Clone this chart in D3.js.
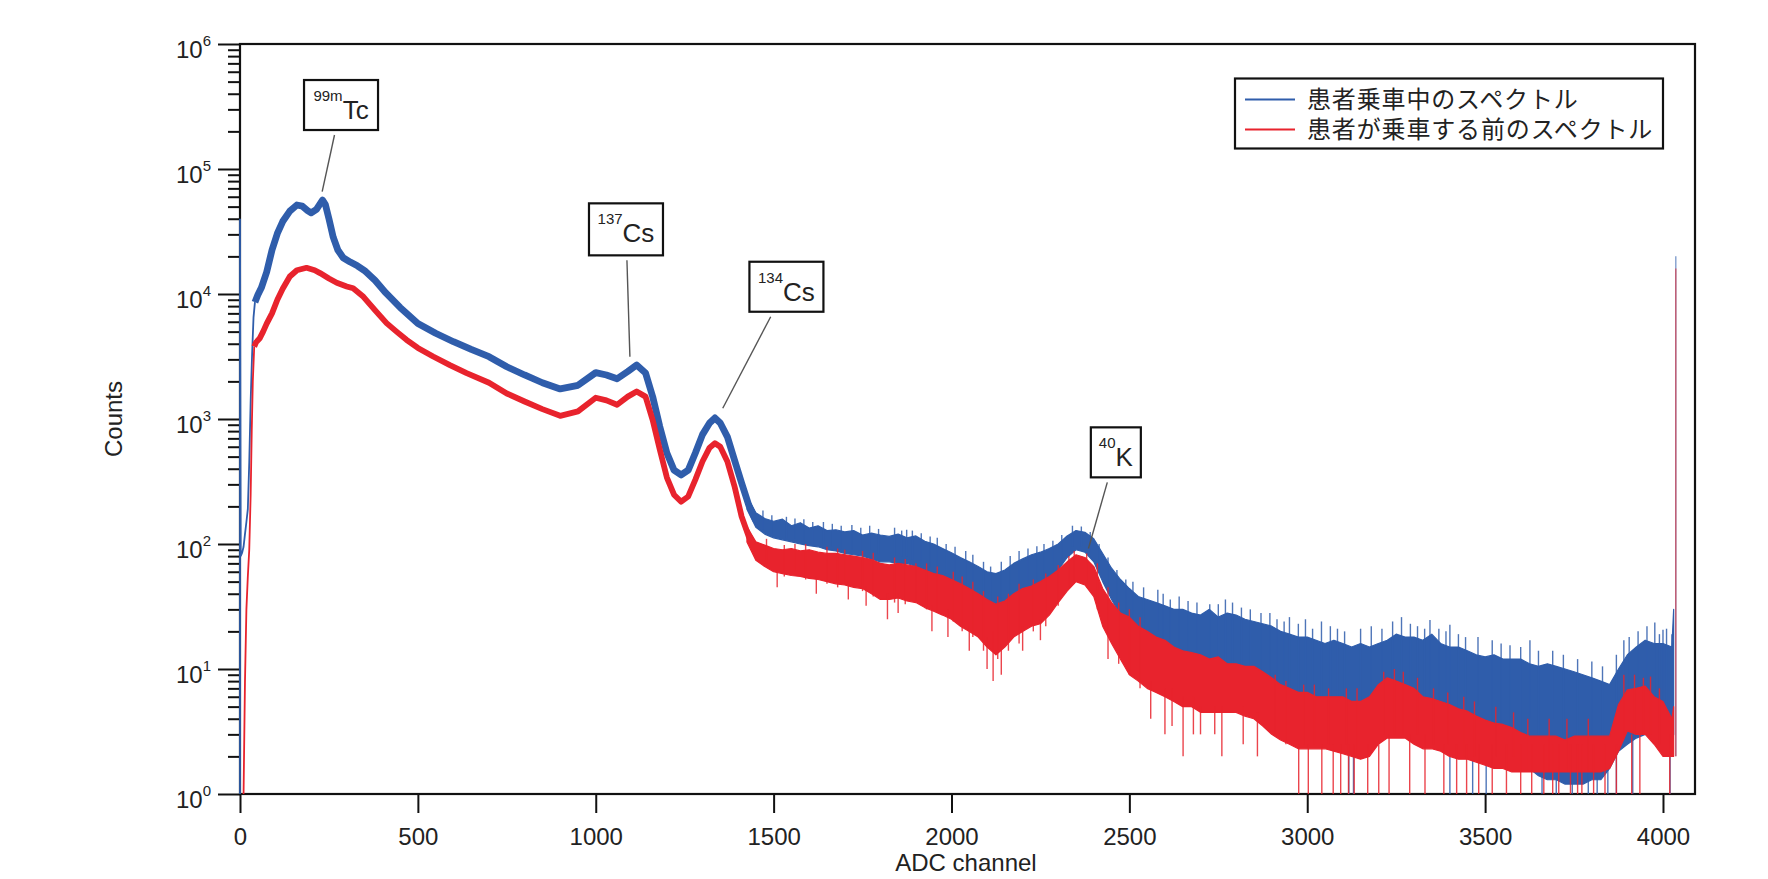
<!DOCTYPE html>
<html><head><meta charset="utf-8">
<script src="https://cdn.jsdelivr.net/npm/d3@7"></script>
<style>
body{margin:0;background:#fff;}
svg{display:block;font-family:"Liberation Sans",Arial,sans-serif;}
</style></head><body>
<svg id="chart" width="1768" height="879"></svg>
<script>
// ---------------- DATA ----------------
const xTicks = [0, 500, 1000, 1500, 2000, 2500, 3000, 3500, 4000];
const yExponents = [0, 1, 2, 3, 4, 5, 6];
const seriesNames = ["患者乗車中のスペクトル", "患者が乗車する前のスペクトル"];

// smooth part of the spectrum (channel, counts)
const blueCh = [0,0,2,6,10,14,18,22,26,30, 34,38,42,50,60,75,90,105,120,140,
  160,175,190,200,215,232,240,250,262,275, 290,310,330,350,380,410,450,500,550,600,
  650,700,750,800,850,900,950,1000,1030,1060, 1090,1115,1140,1160,1180,1200,1220,1240,1260,1280,
  1300,1320,1335,1350,1370,1390,1410,1430,1450];
const blueVal = [1,40000,80,85,95,120,150,190,450,1400, 3300,6500,8600,9800,11200,15000,22500,30500,38000,46000,
  51500,50500,46500,44600,47500,56500,52000,40000,28500,22500, 19500,18000,16800,15400,12800,10200,7800,5800,4850,4150,
  3600,3150,2620,2250,1950,1740,1860,2350,2250,2100, 2400,2700,2330,1510,870,534,390,357,390,534,
  750,930,1020,930,720,470,307,205,155];

const redCh = [10,14,18,22,26,30,33,36,40,45, 55,65,75,90,105,120,140,160,187,210,
  225,250,272,300,318,347,380,412,440,468, 500,543,590,637,700,750,800,850,900,950,
  1000,1030,1060,1090,1115,1140,1160,1180,1200,1220, 1240,1260,1280,1300,1320,1335,1350,1370,1390,1410,
  1430,1450];
const redVal = [1,8,30,55,90,250,800,2000,3800,4100, 4400,5000,5800,7000,9000,11000,13800,15500,16200,15500,
  14700,13300,12300,11500,11100,9500,7400,5850,5000,4300, 3700,3160,2700,2330,1950,1600,1380,1200,1060,1150,
  1480,1410,1300,1510,1660,1510,980,570,340,248, 218,240,327,457,590,640,600,457,290,166,
  115,87];

// noisy part: upper / lower envelope of the noise band
const noiseCh = [1425,1450,1475,1500,1525,1550,1575,1600,1625,1650,
  1675,1700,1725,1750,1775,1800,1825,1850,1875,1900,
  1925,1950,1975,2000,2025,2050,2075,2100,2125,2150,
  2175,2200,2225,2250,2275,2300,2325,2350,2375,2400,
  2425,2450,2475,2500,2525,2550,2575,2600,2625,2650,
  2675,2700,2725,2750,2775,2800,2825,2850,2875,2900,
  2925,2950,2975,3000,3025,3050,3075,3100,3125,3150,
  3175,3200,3225,3250,3275,3300,3325,3350,3375,3400,
  3425,3450,3475,3500,3525,3550,3575,3600,3625,3650,
  3675,3700,3725,3750,3775,3800,3825,3850,3875,3900,
  3925,3950,3975,4000,4025,4030];
const blueHi = [240,178,160,152,158,140,148,134,140,128,
  130,125,128,118,122,118,115,120,112,116,
  105,100,92,85,78,72,66,60,58,62,
  70,76,82,86,92,100,116,128,124,110,
  84,64,52,44,38,36,34,32,30,30,
  28,27,30,26,28,27,25,24,23,22,
  20,19,18,18,17,16,17,16,15,16,
  15,16,17,19,18,18,17,19,16,15,
  15,14,13,12.5,13,12,12,12,11,10.5,
  11,10.5,10,9.5,9,8.5,8,7.5,10,13,
  15,17,16,16,15,30];
const blueLo = [190,136,120,112,108,104,100,97,95,90,
  88,84,82,80,76,72,72,70,70,66,
  62,58,52,48,44,40,35,32,30,33,
  38,42,44,48,53,62,78,90,86,72,
  50,36,27,21,17,14,13,12,11,10,
  9.5,9,9,8.5,8,7.5,7,6.5,6,5.5,
  5,5,4.5,4.5,4.5,4.5,4.5,4,4,4,
  3.8,3.5,3.5,3.5,3.5,3.5,3.4,3.2,3,3,
  3,2.8,2.6,2.5,2.5,2.3,2.2,2,1.6,1.4,
  1.3,1.3,1.2,1.2,1.2,1.3,1.3,1.6,2.2,2.5,
  2.8,3,3,3,2.5,3];
const redHi = [138,104,98,92,90,92,88,90,86,84,
  84,82,80,78,75,70,68,70,68,66,
  62,58,56,52,48,44,40,36,33,35,
  40,44,46,50,55,62,72,82,78,66,
  44,34,28,26,22,20,18,17,15,14,
  13.5,13,12,12.5,11,11,10.5,10.5,9.5,8.5,
  7.5,7,6.5,6.5,6,6,6,6,5.5,5.5,
  6,7.5,8.5,8,7.5,7,6,5.8,5.5,5.2,
  4.8,4.6,4.2,3.9,3.7,3.6,3.4,3.1,2.9,2.9,
  2.9,2.9,2.7,2.9,2.9,2.9,2.9,2.9,5.2,6.8,
  7,7.3,6,5.5,4,5];
const redLo = [104,74,66,60,58,56,55,53,52,50,
  48,47,45,44,40,36,36,37,35,34,
  31,29,27,25,22,20,18,15,13,15,
  18,20,22,23,27,34,42,50,47,38,
  22,16,12,9,8,7,6.5,6,5.5,5,
  5,4.5,4.5,4.5,4.5,4.5,4.2,4,3.5,3,
  2.7,2.5,2.3,2.3,2.3,2.3,2.2,2.1,2,1.9,
  2,2.5,2.8,2.8,2.8,2.5,2.3,2.3,2.2,2,
  1.9,1.9,1.8,1.7,1.6,1.6,1.5,1.5,1.5,1.5,
  1.5,1.5,1.5,1.5,1.5,1.5,1.5,1.6,2.2,3.2,
  3,3,2.5,2,2,2];

// single-channel spikes: [channel, low count, high count]
const blueSpikes = [[1470,130,185],[1495,120,170],[1536,110,165],[1560,110,160],[1585,105,158],[1610,100,150],
  [1640,100,150],[1665,95,145],[1690,90,140],[1720,90,142],[1745,88,135],[1770,85,140],[1795,82,132],
  [1840,80,135],[1860,80,128],[1874,80,130],[1890,75,128],[1915,70,122],[1940,65,115],[1960,60,112],
  [1985,58,100],[2010,52,95],[2040,45,88],[2060,45,82],[2090,38,72],[2110,35,66],[2140,36,72],[2165,40,80],
  [2190,45,88],[2215,48,92],[2240,52,96],[2260,55,100],[2285,58,106],[2310,70,118],[2340,95,140],
  [2365,95,138],[2390,85,125],[2415,65,100],[2440,45,78],[2465,32,62],[2490,26,52],[2510,22,50],
  [2540,18,45],[2580,20,43],[2595,15,40],[2615,14,36],[2640,14,38],[2665,12,35],[2690,11,34],[2726,12,33],
  [2750,10,33],[2770,10,36],[2790,10,34],[2815,9,31],[2840,8,30],[2870,8,28],[2895,7,28],[2915,6,25],
  [2935,6,24],[2950,7,26],[2975,6,23],[2995,5,25],[3015,5,21],[3040,6,24],[3065,5,22],[3085,5,21],
  [3105,5,20],[3117,1,5],[3130,1,5],[3150,5,21],[3180,5,22],[3210,4,21],[3240,4,24],[3265,6,26],
  [3290,4,23],[3310,4,22],[3330,4,21],[3345,6,24.7],[3370,4,21],[3390,4,20],[3401,1,22.6],[3425,4,19],
  [3445,4,18],[3465,1,3],[3480,5,18],[3503,1,3],[3520,3,17],[3545,3,16],[3570,3,15.5],[3600,3,15],
  [3626,4,17],[3650,3,14],[3660,1,2.5],[3690,4,14],[3700,1,2.5],[3720,3,13],[3745,1,2.5],[3760,2.5,12],
  [3790,1,2.5],[3800,2.5,11.5],[3815,1,2.5],[3830,2.5,10.5],[3845,1,2.5],[3869,1,13],[3890,3,17],
  [3905,3,18],[3915,1,3],[3930,3,20],[3955,3,22],[3977,5,23.6],[3990,3,19],[4000,5,20.6],[4010,3,21],
  [4020,1,3],[4025,3,19],[4036,2,20000]];
const redSpikes = [[1480,70,110],[1510,45,62],[1530,55,98],[1560,60,100],[1590,52,100],[1620,40,55],
  [1650,48,95],[1680,45,92],[1700,48,90],[1710,36,50],[1750,42,88],[1760,32,46],[1780,38,85],[1820,25,40],
  [1840,34,78],[1850,28,40],[1870,33,76],[1900,35,70],[1930,30,70],[1945,20,32],[1960,28,66],[1990,18,30],
  [2005,24,60],[2030,20,55],[2050,14,22],[2060,18,50],[2090,14,42],[2100,10,18],[2117,8,20],[2130,12,38],
  [2140,9,16],[2160,14,40],[2190,16,48],[2200,14,22],[2230,20,52],[2250,17,25],[2265,22,58],[2300,32,68],
  [2330,45,80],[2345,48,88],[2380,45,84],[2410,30,70],[2440,12,45],[2470,11,34],[2500,9,30],[2530,7,26],
  [2560,4,8],[2600,3,7],[2620,3.5,7],[2651,2,6],[2680,3,6],[2700,3,5],[2740,3,5],[2760,2,5],[2820,2.5,5],
  [2860,2,4.5],[2910,3,9],[2940,2.5,8],[2976,1,2.5],[2990,2.5,7.5],[3003,1,2.5],[3020,2.5,7.5],[3041,1,2.5],
  [3060,2.5,7],[3073,1,2.5],[3094,1,2.5],[3110,2.5,7],[3116,1,2.5],[3132,1,2.5],[3140,2,7],[3170,1,2.5],
  [3201,1,2.5],[3215,3,9.5],[3230,1,3],[3245,3,10],[3270,3,9.5],[3288,1,3],[3310,3,8.5],[3331,1,3],
  [3355,2.5,7],[3384,1,2.5],[3395,2.5,6.5],[3420,1,2.5],[3440,2,6],[3448,1,2.5],[3470,2,5.5],[3482,1,2.5],
  [3520,1,2.5],[3530,2,5],[3560,1,2.5],[3580,2,4.5],[3600,1,2.5],[3620,1.5,4],[3631,1,2.5],[3665,1,2.5],
  [3680,1.5,4],[3690,1,2.5],[3707,1,2.5],[3730,1.5,4],[3740,1,2.5],[3760,1,2.5],[3772,1,2.5],[3790,1.5,4],
  [3805,1,2.5],[3837,1,2.5],[3869,1,2.5],[3890,3,9],[3912,1,3],[3920,3,9],[3935,1,3],[3945,3,8.5],
  [3965,3,8.7],[3990,2.5,7],[4019,1,3],[4036,2,16000]];

// peak annotations
const annoSup = ["99m", "137", "134", "40"];
const annoSym = ["Tc", "Cs", "Cs", "K"];
const annoPeakCh = [231, 1096, 1357, 2385];
const annoPeakCount = [65800, 3150, 1220, 92];
const annoLabelCh = [284, 1085, 1536, 2462];
const annoLabelCount = [325000, 32900, 11430, 541];

// ---------------- STYLE / LAYOUT ----------------
const colors = ["#2f5dab", "#e8232d"];
const annoBoxW = [74, 74, 74, 50];
const annoBoxH = [50, 52, 50, 50];

const svg = d3.select("#chart");
const x = d3.scaleLinear().domain([0, 4090]).range([240, 1695]);
const y = d3.scaleLog().domain([1, 1e6]).range([794, 44]).clamp(true);

// frame
svg.append("rect").attr("x", x(0)).attr("y", y(1e6))
  .attr("width", x(4090) - x(0)).attr("height", y(1) - y(1e6))
  .attr("fill", "none").attr("stroke", "#111").attr("stroke-width", 2.2);

// y axis ticks
const minors = [];
yExponents.slice(0, -1).forEach(e => { for (let m = 2; m <= 9; m++) minors.push(m * Math.pow(10, e)); });
const gyMin = svg.append("g").attr("transform", `translate(${x(0)},0)`)
  .call(d3.axisLeft(y).tickValues(minors).tickSize(12).tickFormat(""));
const gyMaj = svg.append("g").attr("transform", `translate(${x(0)},0)`)
  .call(d3.axisLeft(y).tickValues(yExponents.map(e => Math.pow(10, e))).tickSize(22).tickFormat(""));
[gyMin, gyMaj].forEach(g => {
  g.select(".domain").remove();
  g.selectAll(".tick line").attr("stroke", "#111").attr("stroke-width", 2);
});
yExponents.forEach(e => {
  const t = svg.append("text").attr("x", 211).attr("y", y(Math.pow(10, e)) + 14)
    .attr("text-anchor", "end").attr("fill", "#222");
  t.append("tspan").attr("font-size", 24).text("10");
  t.append("tspan").attr("font-size", 15).attr("dy", -12).text(e);
});

// x axis
const gx = svg.append("g").attr("transform", `translate(0,${y(1)})`)
  .call(d3.axisBottom(x).tickValues(xTicks).tickSize(19).tickPadding(15).tickFormat(d3.format("d")));
gx.select(".domain").remove();
gx.selectAll(".tick line").attr("stroke", "#111").attr("stroke-width", 2);
gx.selectAll(".tick text").attr("font-size", 24).attr("fill", "#222")
  .attr("font-family", "Liberation Sans, Arial, sans-serif");

// axis titles
svg.append("text").attr("x", 966).attr("y", 871).attr("text-anchor", "middle")
  .attr("font-size", 24).attr("fill", "#222").text("ADC channel");
svg.append("text").attr("transform", "translate(122,419) rotate(-90)").attr("text-anchor", "middle")
  .attr("font-size", 24).attr("fill", "#222").text("Counts");

// ---------------- SERIES ----------------
svg.append("defs").append("clipPath").attr("id", "clip").append("rect")
  .attr("x", x(0) - 2).attr("y", y(1e6)).attr("width", x(4090) - x(0) + 2).attr("height", y(1) - y(1e6) + 1);
const plot = svg.append("g").attr("clip-path", "url(#clip)");

const line = d3.line().x(d => x(d[0])).y(d => y(d[1]));
const area = d3.area().x(d => x(d[0])).y0(d => y(d[1])).y1(d => y(d[2]));

function drawSeries(chs, vals, hi, lo, spikes, color, thick, thinUntil) {
  const g = plot.append("g");
  const pts = chs.map((c, i) => [c, vals[i]]);
  g.append("path").datum(pts.filter(d => d[0] <= thinUntil)).attr("d", line)
    .attr("fill", "none").attr("stroke", color).attr("stroke-width", 1.8);
  g.append("path").datum(pts.filter(d => d[0] >= thinUntil)).attr("d", line)
    .attr("fill", "none").attr("stroke", color).attr("stroke-width", thick)
    .attr("stroke-linejoin", "round");
  const band = noiseCh.map((c, i) => [c, lo[i], hi[i]]);
  g.append("path").datum(band).attr("d", area)
    .attr("fill", color).attr("stroke", color).attr("stroke-width", 1.2).attr("stroke-linejoin", "round");
  g.selectAll("line.sp").data(spikes).join("line").attr("class", "sp")
    .attr("x1", d => x(d[0])).attr("x2", d => x(d[0]))
    .attr("y1", d => y(d[1])).attr("y2", d => y(d[2]))
    .attr("stroke", color).attr("stroke-width", 1.4).attr("stroke-opacity", d => d[2] > 5000 ? 0.6 : 0.85);
}
drawSeries(blueCh, blueVal, blueHi, blueLo, blueSpikes, colors[0], 6.8, 42);
drawSeries(redCh, redVal, redHi, redLo, redSpikes, colors[1], 5.8, 40);

// ---------------- ANNOTATIONS ----------------
annoSym.forEach((sym, i) => {
  const cx = x(annoLabelCh[i]), cy = y(annoLabelCount[i]);
  const w = annoBoxW[i], h = annoBoxH[i];
  const ex = x(annoPeakCh[i]), ey = y(annoPeakCount[i]);
  const bottom = cy + h / 2 + 5;
  const t = (ey - bottom) / (ey - cy);
  const sx = ex + t * (cx - ex);
  svg.append("line").attr("x1", sx).attr("y1", bottom).attr("x2", ex).attr("y2", ey)
    .attr("stroke", "#555").attr("stroke-width", 1.4);
  svg.append("rect").attr("x", cx - w / 2).attr("y", cy - h / 2).attr("width", w).attr("height", h)
    .attr("fill", "#fff").attr("stroke", "#111").attr("stroke-width", 2.2);
  const tx = svg.append("text").attr("x", cx).attr("y", cy - h / 2 + 39)
    .attr("text-anchor", "middle").attr("fill", "#222");
  tx.append("tspan").attr("font-size", 15).attr("dy", -18).text(annoSup[i]);
  tx.append("tspan").attr("font-size", 26).attr("dy", 18).text(sym);
});

// ---------------- LEGEND ----------------
const lg = svg.append("g");
lg.append("rect").attr("x", 1235).attr("y", 78.5).attr("width", 428).attr("height", 70)
  .attr("fill", "#fff").attr("stroke", "#111").attr("stroke-width", 2.2);
seriesNames.forEach((name, i) => {
  const ly = 99.5 + i * 30;
  lg.append("line").attr("x1", 1245).attr("x2", 1295).attr("y1", ly).attr("y2", ly)
    .attr("stroke", colors[i]).attr("stroke-width", 2);
  lg.append("text").attr("x", 1307).attr("y", ly + 8.5)
    .attr("font-family", "'Noto Sans CJK JP', sans-serif").attr("font-size", 24)
    .attr("letter-spacing", 0.85).attr("fill", "#222").text(name);
});
</script>
</body></html>
